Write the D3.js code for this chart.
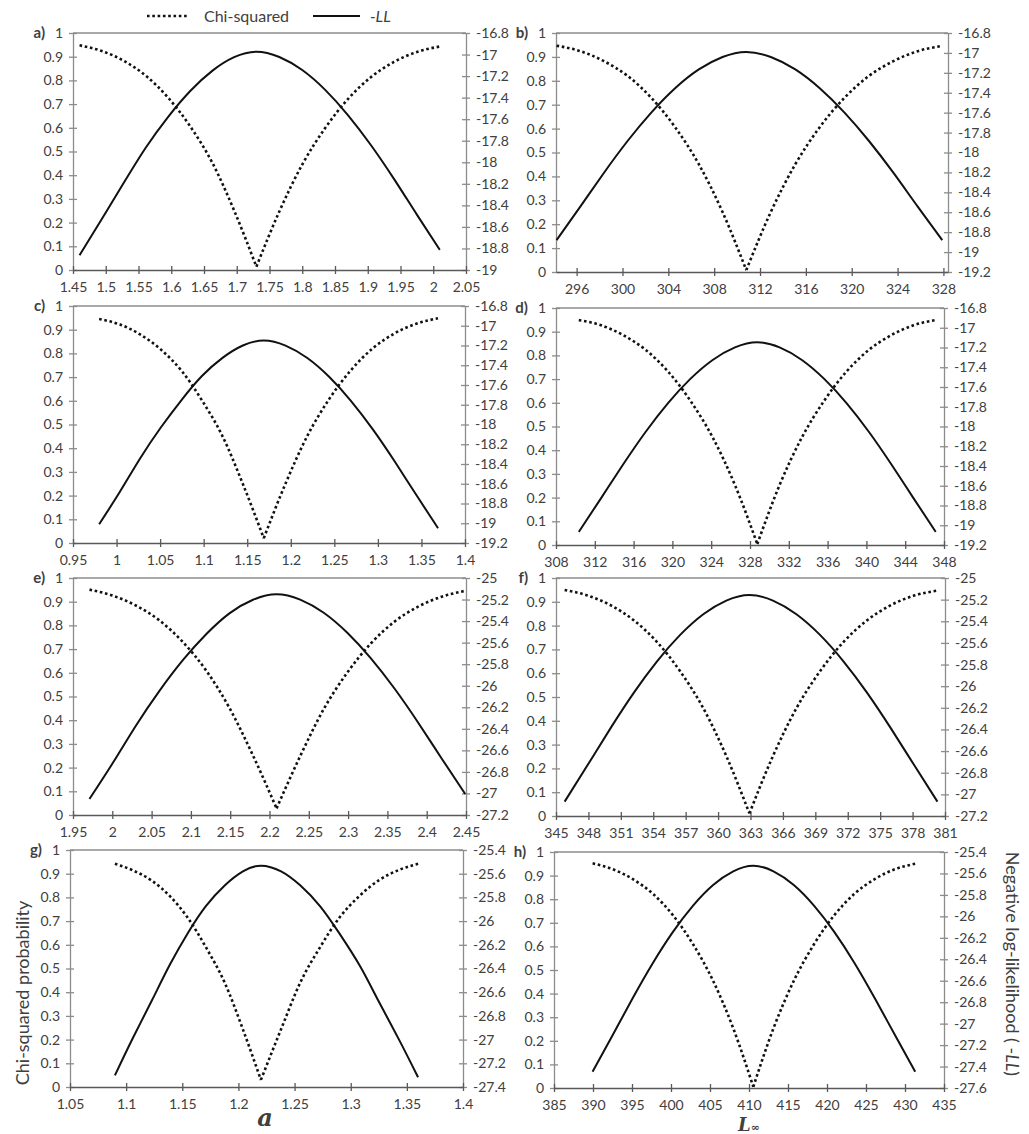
<!DOCTYPE html>
<html>
<head>
<meta charset="utf-8">
<script src="https://cdn.jsdelivr.net/npm/d3@7"></script>
<style>
  body { margin: 0; background: #fff; }
  svg text { font-family: Lato, "Open Sans", sans-serif; fill: #404040; }
</style>
</head>
<body>
<script>
// profile values: x (parameter), chi-squared probability, -LL
const aX = [1.46, 1.494, 1.528, 1.561, 1.595, 1.629, 1.663, 1.696, 1.73, 1.765, 1.80, 1.835, 1.87, 1.905, 1.94, 1.975, 2.01]
const aChi = [0.948, 0.924, 0.882, 0.820, 0.728, 0.606, 0.451, 0.251, 0.014, 0.247, 0.445, 0.599, 0.722, 0.814, 0.878, 0.920, 0.943]
const aLL = [-18.863, -18.527, -18.186, -17.865, -17.580, -17.338, -17.149, -17.024, -16.973, -17.023, -17.144, -17.328, -17.564, -17.842, -18.154, -18.486, -18.813]

const bX = [294.25, 296.32, 298.39, 300.46, 302.53, 304.59, 306.66, 308.73, 310.8, 312.94, 315.08, 317.21, 319.35, 321.49, 323.63, 325.76, 327.9]
const bChi = [0.947, 0.924, 0.882, 0.820, 0.728, 0.606, 0.451, 0.251, 0.008, 0.251, 0.451, 0.606, 0.728, 0.820, 0.882, 0.924, 0.946]
const bLL = [-18.88, -18.544, -18.203, -17.882, -17.597, -17.355, -17.166, -17.041, -16.99, -17.041, -17.166, -17.355, -17.597, -17.882, -18.203, -18.544, -18.88]

const cX = [0.98, 1.004, 1.027, 1.051, 1.075, 1.098, 1.122, 1.145, 1.169, 1.194, 1.219, 1.244, 1.269, 1.294, 1.319, 1.344, 1.369]
const cChi = [0.945, 0.922, 0.880, 0.816, 0.725, 0.602, 0.448, 0.249, 0.02, 0.251, 0.452, 0.607, 0.729, 0.821, 0.884, 0.925, 0.948]
const cLL = [-19.01, -18.679, -18.344, -18.028, -17.747, -17.509, -17.323, -17.200, -17.15, -17.201, -17.327, -17.517, -17.760, -18.047, -18.370, -18.712, -19.05]

const dX = [310.35, 312.65, 314.95, 317.25, 319.55, 321.85, 324.15, 326.45, 328.75, 331.05, 333.35, 335.65, 337.95, 340.25, 342.55, 344.85, 347.15]
const dChi = [0.949, 0.927, 0.885, 0.823, 0.732, 0.609, 0.454, 0.253, 0.004, 0.253, 0.454, 0.609, 0.732, 0.823, 0.885, 0.927, 0.949]
const dLL = [-19.067, -18.725, -18.380, -18.053, -17.763, -17.518, -17.326, -17.199, -17.147, -17.199, -17.326, -17.518, -17.763, -18.053, -18.380, -18.725, -19.067]

const eX = [1.971, 2.001, 2.030, 2.060, 2.090, 2.120, 2.149, 2.179, 2.209, 2.239, 2.269, 2.299, 2.329, 2.359, 2.389, 2.419, 2.449]
const eChi = [0.951, 0.925, 0.884, 0.821, 0.729, 0.607, 0.452, 0.251, 0.028, 0.248, 0.447, 0.601, 0.724, 0.816, 0.879, 0.921, 0.946]
const eLL = [-27.051, -26.713, -26.371, -26.048, -25.761, -25.518, -25.328, -25.202, -25.151, -25.201, -25.323, -25.509, -25.746, -26.026, -26.341, -26.675, -27.005]

const fX = [345.8, 347.94, 350.08, 352.21, 354.35, 356.49, 358.63, 360.76, 362.9, 365.08, 367.25, 369.43, 371.6, 373.78, 375.95, 378.13, 380.3]
const fChi = [0.950, 0.926, 0.885, 0.822, 0.731, 0.608, 0.453, 0.252, 0.011, 0.252, 0.453, 0.608, 0.731, 0.822, 0.885, 0.926, 0.947]
const fLL = [-27.067, -26.727, -26.383, -26.059, -25.770, -25.526, -25.335, -25.209, -25.157, -25.209, -25.335, -25.526, -25.770, -26.059, -26.383, -26.727, -27.067]

const gX = [1.09, 1.106, 1.123, 1.139, 1.155, 1.171, 1.188, 1.204, 1.22, 1.238, 1.255, 1.273, 1.29, 1.308, 1.325, 1.343, 1.36]
const gChi = [0.942, 0.914, 0.870, 0.805, 0.713, 0.590, 0.438, 0.243, 0.03, 0.244, 0.440, 0.592, 0.715, 0.807, 0.872, 0.916, 0.942]
const gLL = [-27.302, -26.987, -26.668, -26.367, -26.100, -25.874, -25.697, -25.580, -25.532, -25.580, -25.698, -25.877, -26.105, -26.375, -26.679, -27.000, -27.318]

const hX = [389.95, 392.53, 395.1, 397.68, 400.25, 402.83, 405.4, 407.98, 410.55, 413.14, 415.74, 418.33, 420.93, 423.52, 426.11, 428.71, 431.3]
const hChi = [0.952, 0.927, 0.885, 0.823, 0.732, 0.609, 0.454, 0.253, 0.005, 0.253, 0.454, 0.609, 0.732, 0.823, 0.885, 0.927, 0.950]
const hLL = [-27.448, -27.106, -26.761, -26.434, -26.144, -25.899, -25.707, -25.580, -25.528, -25.580, -25.707, -25.899, -26.144, -26.434, -26.761, -27.106, -27.448]

// axes
const panelNames = ['a)', 'b)', 'c)', 'd)', 'e)', 'f)', 'g)', 'h)']
const chiTicks = [0, 0.1, 0.2, 0.3, 0.4, 0.5, 0.6, 0.7, 0.8, 0.9, 1]
const xDomains = [[1.45, 2.05], [294.2, 328.4], [0.95, 1.4], [308, 348], [1.95, 2.45], [345, 381], [1.05, 1.4], [385, 435]]
const xTicksA = [1.45, 1.5, 1.55, 1.6, 1.65, 1.7, 1.75, 1.8, 1.85, 1.9, 1.95, 2, 2.05]
const xTicksB = [296, 300, 304, 308, 312, 316, 320, 324, 328]
const xTicksC = [0.95, 1, 1.05, 1.1, 1.15, 1.2, 1.25, 1.3, 1.35, 1.4]
const xTicksD = [308, 312, 316, 320, 324, 328, 332, 336, 340, 344, 348]
const xTicksE = [1.95, 2, 2.05, 2.1, 2.15, 2.2, 2.25, 2.3, 2.35, 2.4, 2.45]
const xTicksF = [345, 348, 351, 354, 357, 360, 363, 366, 369, 372, 375, 378, 381]
const xTicksG = [1.05, 1.1, 1.15, 1.2, 1.25, 1.3, 1.35, 1.4]
const xTicksH = [385, 390, 395, 400, 405, 410, 415, 420, 425, 430, 435]
const llTicks19 = [-19, -18.8, -18.6, -18.4, -18.2, -18, -17.8, -17.6, -17.4, -17.2, -17, -16.8]
const llTicks192 = [-19.2, -19, -18.8, -18.6, -18.4, -18.2, -18, -17.8, -17.6, -17.4, -17.2, -17, -16.8]
const llTicks272 = [-27.2, -27, -26.8, -26.6, -26.4, -26.2, -26, -25.8, -25.6, -25.4, -25.2, -25]
const llTicks274 = [-27.4, -27.2, -27, -26.8, -26.6, -26.4, -26.2, -26, -25.8, -25.6, -25.4]
const llTicks276 = [-27.6, -27.4, -27.2, -27, -26.8, -26.6, -26.4, -26.2, -26, -25.8, -25.6, -25.4]

const xs = [aX, bX, cX, dX, eX, fX, gX, hX]
const chis = [aChi, bChi, cChi, dChi, eChi, fChi, gChi, hChi]
const lls = [aLL, bLL, cLL, dLL, eLL, fLL, gLL, hLL]
const xTicks = [xTicksA, xTicksB, xTicksC, xTicksD, xTicksE, xTicksF, xTicksG, xTicksH]
const llTicks = [llTicks19, llTicks192, llTicks192, llTicks192, llTicks272, llTicks272, llTicks274, llTicks276]

// plot boxes [left, top, right, bottom]
const frames = [
  [73, 33, 466, 270], [556, 33, 948, 272],
  [73, 306, 465, 543], [556, 308, 944, 545],
  [73, 578, 466, 815], [556, 578, 945, 816],
  [70, 850, 463, 1087], [554, 852, 944, 1088]
]

const W = 1029
const H = 1134
const fmt = d => String(+d.toFixed(2))

const svg = d3.select('body')
  .append('svg')
  .attr('width', W)
  .attr('height', H)

const styleAxis = (g, col) => {
  g.selectAll('.domain').attr('stroke', col).attr('stroke-width', 1.3)
  g.selectAll('.tick line').attr('stroke', col).attr('stroke-width', 1.3)
  g.selectAll('.tick text')
    .attr('fill', '#404040')
    .style('font-size', '14px')
    .style('font-family', 'Lato, sans-serif')
}

panelNames.forEach((name, i) => {
  const [x0, y0, x1, y1] = frames[i]
  const xScale = d3.scaleLinear().domain(xDomains[i]).range([x0, x1])
  const pScale = d3.scaleLinear().domain([0, 1]).range([y1, y0])
  const llScale = d3.scaleLinear().domain(d3.extent(llTicks[i])).range([y1, y0])

  const g = svg.append('g')

  // top border of plot area
  g.append('line')
    .attr('x1', x0).attr('x2', x1)
    .attr('y1', y0).attr('y2', y0)
    .attr('stroke', '#8c8c8c')
    .attr('stroke-width', 1.3)

  const left = g.append('g')
    .attr('transform', `translate(${x0},0)`)
    .call(d3.axisLeft(pScale).tickValues(chiTicks).tickFormat(fmt).tickSize(4).tickSizeOuter(0).tickPadding(6))
  left.selectAll('.tick line').attr('x1', 4)
  styleAxis(left, '#8c8c8c')

  const right = g.append('g')
    .attr('transform', `translate(${x1},0)`)
    .call(d3.axisRight(llScale).tickValues(llTicks[i]).tickFormat(fmt).tickSize(4).tickSizeOuter(0).tickPadding(6))
  right.selectAll('.tick line').attr('x1', -4)
  styleAxis(right, '#8c8c8c')

  const bottom = g.append('g')
    .attr('transform', `translate(0,${y1})`)
    .call(d3.axisBottom(xScale).tickValues(xTicks[i]).tickFormat(fmt).tickSize(4).tickSizeOuter(0).tickPadding(8))
  bottom.selectAll('.tick line').attr('y1', -4)
  styleAxis(bottom, '#595959')

  g.append('text')
    .attr('x', x0 - 28)
    .attr('y', y0 + 5)
    .attr('text-anchor', 'end')
    .style('font-size', '15px')
    .style('font-weight', 'bold')
    .attr('fill', '#222')
    .text(name)

  const pts = xs[i].map((v, k) => ({ x: v, p: chis[i][k], ll: lls[i][k] }))
  const mid = d3.minIndex(pts, d => d.p)

  const chiLine = d3.line()
    .x(d => xScale(d.x))
    .y(d => pScale(d.p))
    .curve(d3.curveMonotoneX)

  const llLine = d3.line()
    .x(d => xScale(d.x))
    .y(d => llScale(d.ll))
    .curve(d3.curveNatural)

  // two branches so the chi-squared minimum stays a sharp V
  ;[pts.slice(0, mid + 1), pts.slice(mid)].forEach(branch => {
    g.append('path')
      .datum(branch)
      .attr('d', chiLine)
      .attr('fill', 'none')
      .attr('stroke', '#111')
      .attr('stroke-width', 2.6)
      .attr('stroke-dasharray', '2.6,2.7')
  })

  g.append('path')
    .datum(pts)
    .attr('d', llLine)
    .attr('fill', 'none')
    .attr('stroke', '#111')
    .attr('stroke-width', 2)
})

// legend
const legend = svg.append('g')
legend.append('line')
  .attr('x1', 147).attr('x2', 189).attr('y1', 16).attr('y2', 16)
  .attr('stroke', '#111').attr('stroke-width', 2.6).attr('stroke-dasharray', '2.6,2.7')
legend.append('text')
  .attr('x', 204).attr('y', 22)
  .style('font-size', '16px')
  .text('Chi-squared')
legend.append('line')
  .attr('x1', 313).attr('x2', 360).attr('y1', 16).attr('y2', 16)
  .attr('stroke', '#111').attr('stroke-width', 2)
legend.append('text')
  .attr('x', 370).attr('y', 22)
  .style('font-size', '16px')
  .style('font-style', 'italic')
  .text('-LL')

// axis titles
svg.append('text')
  .attr('transform', 'translate(29,993) rotate(-90)')
  .attr('text-anchor', 'middle')
  .style('font-size', '18px')
  .text('Chi-squared probability')

const rt = svg.append('text')
  .attr('transform', 'translate(1006,964) rotate(90)')
  .attr('text-anchor', 'middle')
  .style('font-size', '18px')
rt.append('tspan').text('Negative log-likelihood ( -')
rt.append('tspan').style('font-style', 'italic').text('LL')
rt.append('tspan').text(')')

svg.append('text')
  .attr('x', 265).attr('y', 1126)
  .attr('text-anchor', 'middle')
  .style('font-family', '"DejaVu Serif", serif')
  .style('font-weight', 'bold')
  .style('font-style', 'italic')
  .style('font-size', '24px')
  .attr('fill', '#111')
  .text('a')

const lt = svg.append('text')
  .attr('x', 749).attr('y', 1131)
  .attr('text-anchor', 'middle')
  .style('font-family', '"DejaVu Serif", serif')
  .style('font-weight', 'bold')
  .style('font-style', 'italic')
  .attr('fill', '#111')
lt.append('tspan').style('font-size', '18px').text('L')
lt.append('tspan').style('font-size', '11px').text('∞')
</script>
</body>
</html>
